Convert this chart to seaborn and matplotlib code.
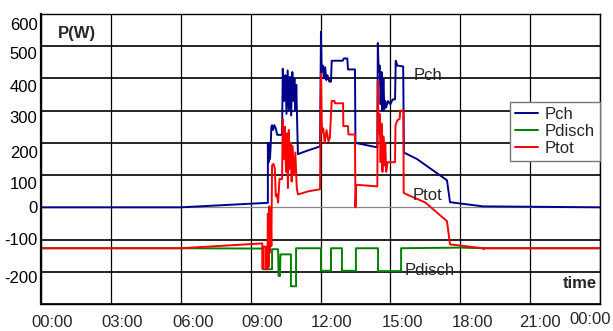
import numpy as np
import pandas as pd
import matplotlib
matplotlib.use("Agg")
import matplotlib.pyplot as plt
import matplotlib.transforms as mtransforms
import seaborn as sns

# charging power (W) vs hour of day
pch_hours = [0, 6.0, 9.74, 9.74, 9.77, 9.80, 9.83, 9.86, 9.89, 9.92, 9.96, 10.02, 10.08,
             10.14, 10.20, 10.35, 10.38, 10.44, 10.49, 10.54, 10.59, 10.64, 10.69, 10.74,
             10.79, 10.84, 10.88, 10.92, 10.96, 11.03, 11.4, 11.98, 12.02, 12.05, 12.10,
             12.15, 12.20, 12.25, 12.30, 12.38, 12.45, 12.48, 12.95, 13.0, 13.15, 13.18,
             13.48, 13.50, 14.44, 14.46, 14.50, 14.54, 14.58, 14.62, 14.66, 14.70, 14.74,
             14.78, 14.82, 14.90, 15.00, 15.10, 15.20, 15.23, 15.30, 15.55, 15.58, 16.14,
             17.43, 17.56, 17.99, 18.98, 24.0]
pch_watts = [0, 0, 14, 200, 140, 200, 150, 190, 250, 255, 240, 255, 245,
             225, 225, 225, 430, 330, 410, 290, 425, 300, 405, 285,
             420, 330, 400, 300, 380, 165, 175, 189, 545, 420, 440,
             400, 435, 395, 410, 390, 390, 455, 455, 462, 462, 428,
             428, 200, 186, 510, 420, 440, 320, 420, 300, 400, 305,
             330, 310, 330, 320, 335, 335, 455, 440, 437, 170, 150,
             84, 16, 12, 3, 0]

# discharging power (W)
pdisch_hours = [0, 6.0, 9.53, 9.53, 9.92, 9.92, 10.18, 10.20, 10.26, 10.28, 10.73, 10.73,
                10.95, 10.95, 12.02, 12.02, 12.45, 12.45, 12.92, 12.92, 13.52, 13.52,
                14.47, 14.47, 15.46, 15.46, 18.0, 19.0, 24.0]
pdisch_watts = [-127, -127, -128, -192, -192, -130, -130, -213, -213, -146, -146, -245,
                -245, -127, -127, -197, -197, -127, -127, -197, -197, -127,
                -127, -198, -198, -127, -125, -127, -127]

# total power (W)
ptot_hours = [0, 6.0, 9.50, 9.50, 9.56, 9.56, 9.66, 9.66, 9.72, 9.74, 9.77, 9.80, 9.83,
              9.86, 9.89, 9.92, 9.98, 10.04, 10.08, 10.13, 10.18, 10.24, 10.35, 10.38,
              10.43, 10.47, 10.52, 10.56, 10.60, 10.64, 10.68, 10.72, 10.76, 10.80, 10.86,
              10.92, 10.98, 11.03, 11.5, 11.98, 12.02, 12.06, 12.12, 12.18, 12.26, 12.34,
              12.40, 12.48, 12.60, 12.62, 12.97, 12.98, 13.18, 13.20, 13.48, 13.50, 13.53,
              14.44, 14.46, 14.50, 14.54, 14.58, 14.62, 14.66, 14.70, 14.74, 14.78, 14.82,
              14.88, 15.20, 15.22, 15.30, 15.40, 15.42, 15.56, 15.57, 15.70, 16.50, 17.43,
              17.56, 18.98, 19.0, 19.05, 24.0]
ptot_watts = [-127, -127, -112, -190, -190, -122, -122, -192, -192, -20, -185, 3, -140,
              -5, -120, 130, 135, 120, 35, 40, 15, 88, 88, 273,
              150, 250, 110, 230, 60, 240, 120, 200, 80, 190, 100,
              170, 60, 40, 50, 56, 415, 232, 245, 200, 240, 205,
              215, 330, 330, 323, 323, 252, 252, 226, 226, 0, 70,
              65, 390, 230, 290, 140, 260, 110, 220, 130, 200, 110,
              140, 140, 255, 270, 275, 300, 300, 45, 40, 15, -43,
              -115, -127, -130, -127, -127]

hour_ticks = [0, 3, 6, 9, 12, 15, 18, 21, 24]
hour_labels = ["00:00", "03:00", "06:00", "09:00", "12:00", "15:00", "18:00", "21:00", "00:00"]
watt_ticks = [-300, -200, -100, 0, 100, 200, 300, 400, 500, 600]
watt_labels = ["", "-200", "-100", "0", "100", "200", "300", "400", "500", "600"]

COLORS = {"Pch": "#00008b", "Pdisch": "#008000", "Ptot": "#ff0000"}

sns.set_style("white")
plt.rcParams["font.family"] = ["Liberation Sans", "DejaVu Sans"]

fig = plt.figure(figsize=(6.13, 3.31), dpi=100)
ax = fig.add_axes([0.0669, 0.0816, 0.9119, 0.8761])

series = [("Pch", pch_hours, pch_watts),
          ("Pdisch", pdisch_hours, pdisch_watts),
          ("Ptot", ptot_hours, ptot_watts)]
for name, hrs, watts in series:
    df = pd.DataFrame({"hour": hrs, "power": watts})
    sns.lineplot(data=df, x="hour", y="power", estimator=None, sort=False,
                 color=COLORS[name], linewidth=1.4, label=name, ax=ax)

ax.set_xlim(0, 24)
ax.set_ylim(-300, 600)
ax.set_xticks(hour_ticks)
ax.set_xticklabels(hour_labels)
ax.set_yticks(watt_ticks)
ax.set_yticklabels(watt_labels)
ax.set_xlabel("")
ax.set_ylabel("")

ax.grid(True, color="black")
for tick_val, gl in zip(watt_ticks, ax.get_ygridlines()):
    gl.set_linewidth(1.2)
    if tick_val == 0:
        gl.set_color("#888888")
        gl.set_linewidth(0.9)
for gl in ax.get_xgridlines():
    gl.set_linewidth(0.9)

for side in ["top", "bottom", "right"]:
    ax.spines[side].set_color("black")
    ax.spines[side].set_linewidth(1.0)
ax.spines["left"].set_color("black")
ax.spines["left"].set_linewidth(1.6)

ax.tick_params(axis="x", length=0, pad=8, labelsize=12)
ax.tick_params(axis="y", length=2, width=1.2, pad=0.5, labelsize=12, colors="black")

# shift tick labels to where the original places them
x_shift = [11, 11, 12, 12, 11, 12, 12, 10, -10]
for lab, dx in zip(ax.get_xticklabels(), x_shift):
    dy = 3 if dx < 0 else 0
    lab.set_transform(lab.get_transform() +
                      mtransforms.ScaledTranslation(dx / 100, dy / 100, fig.dpi_scale_trans))
y_shift = [0, -5, 1, 0, -8, -9, -6, -8, -7, -10]
for lab, dy in zip(ax.get_yticklabels(), y_shift):
    lab.set_transform(lab.get_transform() +
                      mtransforms.ScaledTranslation(0, dy / 100, fig.dpi_scale_trans))

ax.text(0.064, 0.934, "P(W)", transform=ax.transAxes, ha="center", va="center",
        fontsize=12, fontweight="bold")
ax.text(0.964, 0.069, "time", transform=ax.transAxes, ha="center", va="center",
        fontsize=12, fontweight="bold")
ax.text(16.6, 409, "Pch", ha="center", va="center", fontsize=12)
ax.text(16.6, 37, "Ptot", ha="center", va="center", fontsize=12)
ax.text(16.7, -195, "Pdisch", ha="center", va="center", fontsize=12)

leg = ax.legend(loc="upper right", bbox_to_anchor=(1.0, 0.697), borderaxespad=0,
                fontsize=12, handlelength=1.4, handletextpad=0.4, labelspacing=0.12,
                borderpad=0.3, fancybox=False, framealpha=1, edgecolor="#777777")
leg.get_frame().set_linewidth(1.0)

fig.savefig("out.png", dpi=100)
